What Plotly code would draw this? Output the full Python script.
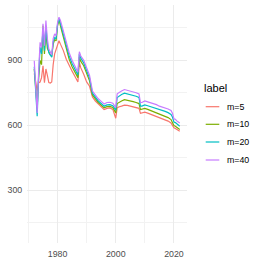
import plotly.graph_objects as go

years = [1972, 1972.5, 1973, 1973.5, 1974, 1974.5, 1975, 1975.5, 1976, 1976.5,
         1977, 1977.5, 1978, 1978.5, 1979, 1979.5, 1980, 1980.5, 1981, 1982,
         1983, 1984, 1985, 1986, 1987, 1987.5, 1988, 1989, 1990, 1991,
         1992, 1993, 1994, 1995, 1996, 1997, 1998, 1999, 2000, 2000.5,
         2001, 2002, 2003, 2004, 2005, 2006, 2007, 2008, 2008.5, 2009,
         2010, 2011, 2012, 2013, 2014, 2015, 2016, 2017, 2018, 2019,
         2019.5, 2020, 2020.5, 2021, 2021.5, 2022]

m5 = [840, 790, 760, 797, 800, 820, 875, 797, 860, 830,
      797, 795, 800, 880, 930, 950, 975, 991, 975, 945,
      905, 875, 850, 825, 800, 890, 865, 836, 800, 780,
      730, 712, 698, 686, 672, 678, 680, 673, 632, 680,
      684, 688, 693, 692, 689, 686, 682, 678, 655, 657,
      660, 656, 651, 646, 640, 634, 630, 625, 619, 610,
      600, 588, 585, 580, 576, 572]

m10 = [860, 770, 680, 820, 900, 880, 1060, 930, 1030, 955,
       935, 925, 920, 975, 995, 990, 1060, 1090, 1060, 1005,
       950, 905, 870, 845, 820, 915, 895, 875, 835, 805,
       740, 722, 705, 693, 680, 686, 687, 682, 657, 700,
       705, 712, 718, 716, 712, 709, 705, 700, 672, 673,
       678, 673, 668, 663, 657, 650, 646, 641, 635, 626,
       614, 598, 595, 590, 585, 580]

m20 = [870, 760, 642, 830, 960, 930, 1050, 945, 1060, 975,
       935, 925, 915, 985, 1005, 1000, 1065, 1095, 1070, 1020,
       965, 920, 885, 858, 832, 930, 910, 888, 848, 818,
       748, 730, 712, 700, 688, 694, 695, 690, 670, 728,
       733, 742, 748, 745, 741, 738, 734, 728, 688, 688,
       694, 690, 686, 682, 678, 672, 668, 664, 658, 650,
       638, 615, 612, 606, 600, 595]

m40 = [898, 780, 657, 850, 983, 960, 1069, 968, 1084, 1000,
       952, 940, 925, 1000, 1022, 1014, 1075, 1100, 1084, 1035,
       980, 935, 900, 870, 845, 940, 920, 900, 860, 830,
       758, 740, 722, 710, 698, 705, 706, 702, 681, 745,
       750, 758, 765, 762, 758, 755, 750, 745, 705, 705,
       712, 708, 704, 700, 695, 688, 684, 680, 675, 668,
       655, 630, 627, 620, 615, 610]

labels = ["m=5", "m=10", "m=20", "m=40"]
series = [m5, m10, m20, m40]
colors = ["#F8766D", "#7CAE00", "#00BFC4", "#C77CFF"]
legend_title = "label"

x_ticks = [1980, 2000, 2020]
y_ticks = [300, 600, 900]

fig = go.Figure()
for lab, vals, col in zip(labels, series, colors):
    fig.add_trace(go.Scatter(x=years, y=vals, mode="lines", name=lab,
                             line=dict(color=col, width=1.2), showlegend=False))

# manual legend (ggplot-style), in paper coordinates
L, R, T, B = 27, 76, 5, 20
W, H = 263, 263
pw, ph = W - L - R, H - T - B


def px_x(p):
    return (p - L) / pw


def px_y(p):
    return (H - B - p) / ph


FONT = "Liberation Sans, Arial, sans-serif"
annotations = [dict(text=legend_title, x=px_x(202), y=px_y(87.5), xref="paper", yref="paper",
                    xanchor="left", yanchor="middle", showarrow=False,
                    font=dict(family=FONT, size=11, color="black"))]
shapes = []
key_y = [106.7, 124.3, 142.0, 160.0]
for lab, col, ky in zip(labels, colors, key_y):
    shapes.append(dict(type="line", xref="paper", yref="paper",
                       x0=px_x(205.7), x1=px_x(219.3), y0=px_y(ky), y1=px_y(ky),
                       line=dict(color=col, width=1.2)))
    annotations.append(dict(text=lab, x=px_x(224.5), y=px_y(ky), xref="paper", yref="paper",
                            xanchor="left", yanchor="middle", showarrow=False,
                            font=dict(family=FONT, size=8.8, color="black")))

fig.update_layout(
    width=W, height=H,
    margin=dict(l=L, r=R, t=T, b=B, autoexpand=False),
    paper_bgcolor="white", plot_bgcolor="white",
    font=dict(family=FONT, size=8.8, color="#4D4D4D"),
    showlegend=False,
    annotations=annotations,
    shapes=shapes,
    xaxis=dict(range=[1969.5, 2024.5], tickvals=x_ticks, showgrid=True,
               gridcolor="#EBEBEB", gridwidth=1, zeroline=False, showline=False,
               ticks="outside", ticklen=2, tickcolor="rgba(0,0,0,0)",
               minor=dict(tickvals=[1970, 1990, 2010], showgrid=True,
                          gridcolor="#F2F2F2", gridwidth=0.6)),
    yaxis=dict(range=[55, 1156], tickvals=y_ticks, showgrid=True,
               gridcolor="#EBEBEB", gridwidth=1, zeroline=False, showline=False,
               ticks="outside", ticklen=2, tickcolor="rgba(0,0,0,0)",
               minor=dict(tickvals=[150, 450, 750, 1050], showgrid=True,
                          gridcolor="#F2F2F2", gridwidth=0.6)),
)

fig.write_html("out.html", config={"displayModeBar": False},
               post_script="document.body.style.margin='0';document.body.style.overflow='hidden';")
